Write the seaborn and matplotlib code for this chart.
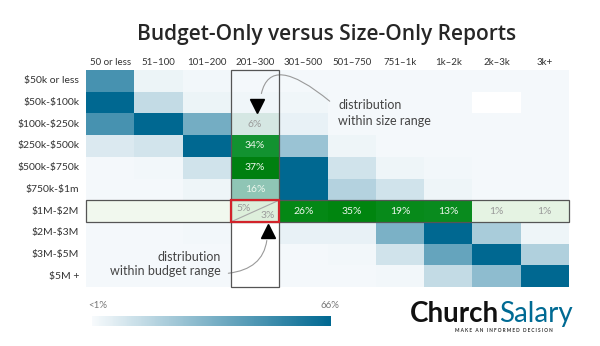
import numpy as np
import pandas as pd
import matplotlib
matplotlib.use("Agg")
import matplotlib.pyplot as plt
import seaborn as sns
from matplotlib.colors import LinearSegmentedColormap
from matplotlib.patches import Rectangle

# ---------------- data ----------------
size_labels = ["50 or less", "51–100", "101–200", "201–300", "301–500",
               "501–750", "751–1k", "1k–2k", "2k–3k", "3k+"]
budget_labels = ["$50k or less", "$50k-$100k", "$100k-$250k", "$250k-$500k",
                 "$500k-$750k", "$750k-$1m", "$1M-$2M", "$2M-$3M",
                 "$3M-$5M", "$5M +"]

nan = np.nan
# share of reports per cell (percent, colour scale <1% .. 66%)
share_pct = [
    [47, 3, 1.5, 1, 1, 1, 1, 1, 1, 1],
    [66, 14, 3, 2, 2, 1, 1, 1, nan, 1],
    [47, 66, 35, nan, 4, 1, 1, 1, 1, 1],
    [7.5, 10, 66, nan, 25, 2.5, 1, 1, 1, 1],
    [1, 1.5, 10.5, nan, 66, 10.5, 2.5, 1.5, 1, 1],
    [1, 1, 2.5, nan, 66, 18, 10.5, 2.5, 1, 1],
    [nan] * 10,
    [1, 1, 1.5, nan, 4, 4, 33, 66, 21, 2.5],
    [1, 1, 1, nan, 1, 1.5, 10.5, 39, 66, 19],
    [1, 1, 1, nan, 1, 1, 1.5, 14, 28, 66],
]

# highlighted column: distribution within size range 201–300
size_col = "201–300"
size_col_rows = ["$100k-$250k", "$250k-$500k", "$500k-$750k", "$750k-$1m", "$1M-$2M"]
within_size_pct = [6, 34, 37, 16, 5]

# highlighted row: distribution within budget range $1M-$2M
budget_row = "$1M-$2M"
budget_row_cols = ["201–300", "301–500", "501–750", "751–1k", "1k–2k", "2k–3k", "3k+"]
within_budget_pct = [3, 26, 35, 19, 13, 1, 1]

# ---------------- style ----------------
sns.set_theme(style="white")
plt.rcParams["font.family"] = ["Lato", "DejaVu Sans"]
plt.rcParams["text.parse_math"] = False

blue_cmap = LinearSegmentedColormap.from_list("blue", ["#f7fafc", "#006891"])
col_cmap = LinearSegmentedColormap.from_list(
    "colgreen", [(0, "#eef4f3"), (0.16, "#d5e7e3"), (0.43, "#8fc5b5"),
                 (0.92, "#129231"), (1, "#008010")])
row_cmap = LinearSegmentedColormap.from_list(
    "rowgreen", [(0, "#f1f8ef"), (0.03, "#e4f2e2"), (0.3, "#0a8c20"),
                 (1, "#00850f")])

fig = plt.figure(figsize=(6, 3.46), dpi=100)
fig.patch.set_facecolor("white")
ax = fig.add_axes([86 / 600, 1 - 287 / 346, 483 / 600, 217 / 346])

blue_df = pd.DataFrame(share_pct, index=budget_labels, columns=size_labels)

col_df = pd.DataFrame(nan, index=budget_labels, columns=size_labels)
for r, v in zip(size_col_rows[:-1], within_size_pct[:-1]):
    col_df.loc[r, size_col] = v
row_df = pd.DataFrame(nan, index=budget_labels, columns=size_labels)
for c, v in zip(budget_row_cols[1:], within_budget_pct[1:]):
    row_df.loc[budget_row, c] = v

sns.heatmap(blue_df, cmap=blue_cmap, vmin=0, vmax=66, cbar=False, ax=ax,
            xticklabels=size_labels, yticklabels=budget_labels)
blue_mesh = ax.collections[0]
sns.heatmap(col_df, cmap=col_cmap, vmin=0, vmax=37, cbar=False, ax=ax,
            xticklabels=size_labels, yticklabels=budget_labels)
sns.heatmap(row_df, cmap=row_cmap, vmin=0, vmax=35, cbar=False, ax=ax,
            xticklabels=size_labels, yticklabels=budget_labels)

ri = budget_labels.index(budget_row)
ci = size_labels.index(size_col)

# light background of the highlighted row
ax.add_patch(Rectangle((0, ri), ci, 1, facecolor="#f1f8ee", edgecolor="none", zorder=0.5))

# cell labels
for r, v in zip(size_col_rows[:-1], within_size_pct[:-1]):
    i = budget_labels.index(r)
    ax.text(ci + 0.5, i + 0.5, f"{v}%", ha="center", va="center", fontsize=7.5,
            color="#9a9a9a" if v < 10 else "#eef7ee")
for c, v in zip(budget_row_cols[1:], within_budget_pct[1:]):
    j = size_labels.index(c)
    ax.text(j + 0.5, ri + 0.5, f"{v}%", ha="center", va="center", fontsize=7.5,
            color="#9a9a9a" if v < 10 else "#eef7ee")

# split cell
ax.add_patch(Rectangle((ci, ri), 1, 1, facecolor="#ddefdb", edgecolor="none", zorder=2))
ax.plot([ci, ci + 1], [ri + 1, ri], color="#a8a8a8", lw=0.8, zorder=3)
ax.text(ci + 0.26, ri + 0.39, f"{within_size_pct[-1]}%", ha="center", va="center",
        fontsize=7.5, color="#9a9a9a", zorder=4)
ax.text(ci + 0.77, ri + 0.70, f"{within_budget_pct[0]}%", ha="center", va="center",
        fontsize=7.5, color="#9a9a9a", zorder=4)

# outlines
ax.add_patch(Rectangle((ci, 0), 1, len(budget_labels), fill=False, edgecolor="#555555",
                       lw=0.9, zorder=5, clip_on=False))
ax.add_patch(Rectangle((0, ri), len(size_labels), 1, fill=False, edgecolor="#555555",
                       lw=0.9, zorder=5, clip_on=False))
ax.add_patch(Rectangle((ci, ri), 1, 1, fill=False, edgecolor="#d2232a",
                       lw=1.6, zorder=6, clip_on=False))

# annotations
ax.text(5.22, 1.98, "distribution\nwithin size range", ha="left", va="center",
        fontsize=9, color="#444444", linespacing=1.35)
ax.annotate("", xy=(3.62, 1.21), xytext=(5.09, 1.52),
            arrowprops=dict(arrowstyle="-", color="#9a9a9a", lw=0.8,
                            connectionstyle="angle3,angleA=140,angleB=80"))
ax.plot(3.55, 1.66, marker="v", ms=9.5, color="black", zorder=7)

ax.text(2.80, 8.94, "distribution\nwithin budget range", ha="right", va="center",
        multialignment="right", fontsize=9, color="#444444", linespacing=1.2)
ax.annotate("", xy=(3.75, 7.73), xytext=(2.89, 9.38),
            arrowprops=dict(arrowstyle="-", color="#9a9a9a", lw=0.8,
                            connectionstyle="angle3,angleA=5,angleB=-95"))
ax.plot(3.77, 7.44, marker="^", ms=9.5, color="black", zorder=7)

# ticks
ax.xaxis.tick_top()
ax.tick_params(axis="both", length=0)
ax.tick_params(axis="x", pad=2, labelsize=7, labelcolor="#333333")
ax.tick_params(axis="y", pad=5, labelsize=7.5, labelcolor="#333333")
plt.setp(ax.get_xticklabels(), rotation=0)
plt.setp(ax.get_yticklabels(), rotation=0)
ax.set_xlabel("")
ax.set_ylabel("")

# title
fig.text(327 / 600, 1 - 40 / 346, "Budget-Only versus Size-Only Reports",
         ha="center", va="baseline", fontsize=15, fontweight="semibold",
         family=["Open Sans", "DejaVu Sans"], color="#262626")

# colorbar
cax = fig.add_axes([92 / 600, 1 - 326 / 346, 239 / 600, 10 / 346])
cb = fig.colorbar(blue_mesh, cax=cax, orientation="horizontal")
cb.outline.set_visible(False)
cax.set_xticks([])
fig.text(88.5 / 600, 1 - 305 / 346, "<1%", ha="left", va="center", fontsize=7, color="#777777")
fig.text(339 / 600, 1 - 305 / 346, "66%", ha="right", va="center", fontsize=7, color="#777777")

# logo
fig.text(499 / 600, 1 - 322 / 346, "Church", ha="right", va="baseline", fontsize=20,
         fontweight="bold", color="#111111")
fig.text(499 / 600, 1 - 322 / 346, "Salary", ha="left", va="baseline", fontsize=20,
         color="#006a93")
fig.text(503.5 / 600, 1 - 330.5 / 346, "M A K E   A N   I N F O R M E D   D E C I S I O N",
         ha="center", va="center", fontsize=3.4, fontweight="bold", color="#333333")

fig.savefig("out.png", dpi=100, facecolor="white")
